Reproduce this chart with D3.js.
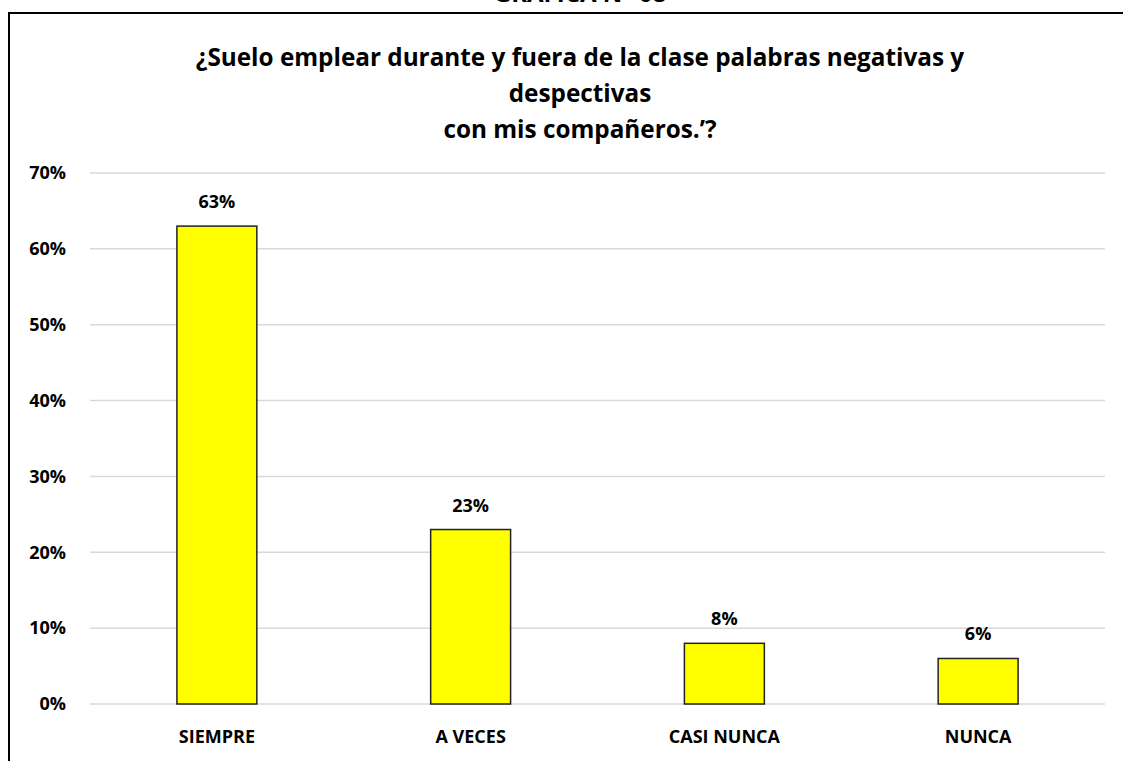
<!DOCTYPE html>
<html>
<head>
<meta charset="utf-8">
<script src="https://cdn.jsdelivr.net/npm/d3@7"></script>
<style>
  body { margin: 0; background: #fff; }
  text { font-family: "Open Sans", Lato, sans-serif; font-weight: bold; fill: #000; }
</style>
</head>
<body>
<div id="chart"></div>
<script>
// chart data
var categories = ["SIEMPRE", "A VECES", "CASI NUNCA", "NUNCA"];
var values = [0.63, 0.23, 0.08, 0.06];
var yTicks = [0, 0.1, 0.2, 0.3, 0.4, 0.5, 0.6, 0.7];
var titleLines = [
  "¿Suelo emplear durante y fuera de la clase palabras negativas y",
  "despectivas",
  "con mis compañeros.’?"
];
var topLabel = "GRAFICA N° 08";

var W = 1123, H = 761;
var plot = {left: 90, right: 1105, top: 173, bottom: 704};

var svg = d3.select("#chart").append("svg")
    .attr("width", W)
    .attr("height", H);

// heading above the frame, mostly cut off by the page edge
svg.append("text")
   .attr("x", 580)
   .attr("y", 2)
   .attr("text-anchor", "middle")
   .style("font-size", "24px")
   .text(topLabel);

// chart frame (only top and left visible)
svg.append("path")
   .attr("d", "M9," + (H + 5) + " V13 H" + (W + 5))
   .attr("fill", "none")
   .attr("stroke", "#000")
   .attr("stroke-width", 2);

// title
svg.selectAll(".title")
   .data(titleLines)
   .enter().append("text")
   .attr("class", "title")
   .attr("x", 580)
   .attr("y", function(d, i) { return 66 + i * 36; })
   .attr("text-anchor", "middle")
   .style("font-size", "24.3px")
   .text(function(d) { return d; });

var xScale = d3.scaleBand()
    .domain(categories)
    .range([plot.left, plot.right]);

var yScale = d3.scaleLinear()
    .domain([0, 0.7])
    .range([plot.bottom, plot.top]);

// gridlines
svg.selectAll(".grid")
   .data(yTicks)
   .enter().append("line")
   .attr("class", "grid")
   .attr("x1", plot.left)
   .attr("x2", plot.right)
   .attr("y1", function(d) { return yScale(d); })
   .attr("y2", function(d) { return yScale(d); })
   .attr("stroke", "#d9d9d9")
   .attr("stroke-width", 1.5);

// y axis labels
var yAxis = svg.append("g")
   .attr("transform", "translate(" + plot.left + ",0)")
   .call(d3.axisLeft(yScale).tickValues(yTicks).tickFormat(d3.format(".0%")).tickSize(0).tickPadding(24));
yAxis.select(".domain").remove();
yAxis.selectAll("text")
   .style("font-size", "18px")
   .style("font-family", "'Open Sans', Lato, sans-serif");

// x axis labels
var xAxis = svg.append("g")
   .attr("transform", "translate(0," + plot.bottom + ")")
   .call(d3.axisBottom(xScale).tickSize(0));
xAxis.select(".domain").remove();
xAxis.selectAll("text")
   .attr("y", 39)
   .attr("dy", 0)
   .style("font-size", "18px")
   .style("font-family", "'Open Sans', Lato, sans-serif");

var barW = xScale.bandwidth() * 0.315;

// bars
svg.selectAll(".bar")
   .data(values)
   .enter().append("rect")
   .attr("class", "bar")
   .attr("x", function(d, i) { return xScale(categories[i]) + xScale.bandwidth() / 2 - barW / 2; })
   .attr("y", function(d) { return yScale(d); })
   .attr("width", barW)
   .attr("height", function(d) { return plot.bottom - yScale(d); })
   .attr("fill", "#ffff00")
   .attr("stroke", "#222")
   .attr("stroke-width", 1.5);

// value labels
svg.selectAll(".val")
   .data(values)
   .enter().append("text")
   .attr("class", "val")
   .attr("x", function(d, i) { return xScale(categories[i]) + xScale.bandwidth() / 2; })
   .attr("y", function(d) { return yScale(d) - 18; })
   .attr("text-anchor", "middle")
   .style("font-size", "18px")
   .text(function(d) { return Math.round(d * 100) + "%"; });
</script>
</body>
</html>
